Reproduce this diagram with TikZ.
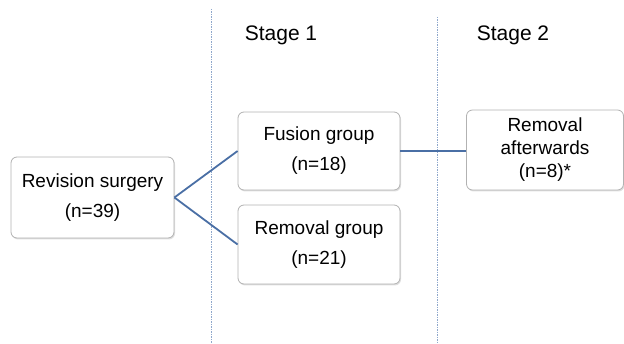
\documentclass[tikz,border=0pt]{standalone}
\usepackage{fontspec}
\setmainfont{Liberation Sans}
\usetikzlibrary{shadows}
\definecolor{linkblue}{HTML}{4A6FA5}
\definecolor{stagegray}{HTML}{8FA8CC}
\tikzset{
groupbox/.style={
	  draw=black!30, line width=0.8pt, rounded corners=6pt, fill=white,
	    drop shadow={opacity=0.25, shadow xshift=1pt, shadow yshift=-1.5pt},
    align=center, font=\fontsize{19}{23}\selectfont},
link/.style={draw=linkblue, line width=1.8pt},
stageline/.style={draw=stagegray, line width=0.9pt, densely dashed, dash pattern=on 1.5pt off 1pt}
}

\begin{document}
\begin{tikzpicture}[x=1pt, y=-1pt]
	\useasboundingbox (0,0) rectangle (624,344);
	% stage borders
	\coordinate (s1top) at (211,9);
	\coordinate (s1bot) at (211,344);
	\coordinate (s2top) at (437,17);
	\coordinate (s2bot) at (437,344);
	\draw[stageline] (s1top) -- (s1bot);
	\draw[stageline] (s2top) -- (s2bot);
	\node[font=\fontsize{21}{25}\selectfont] (stage1) at (281,35) {Stage 1};
	\node[font=\fontsize{21}{25}\selectfont] (stage2) at (513,35) {Stage 2};
	% groups
	\node[groupbox, minimum width=163pt, minimum height=81pt] (rev) at (92.5,197.5)
		{Revision surgery\\[7pt](n=39)};
	\node[groupbox, minimum width=162pt, minimum height=78pt] (fus) at (319,151)
		{Fusion group\\[7pt](n=18)};
	\node[groupbox, minimum width=162pt, minimum height=79pt] (rem) at (319,244.5)
		{Removal group\\[7pt](n=21)};
	\node[groupbox, minimum width=157pt, minimum height=80pt] (aft) at (545,150)
		{Removal\\afterwards\\(n=8)*};
	\draw[link] (rev.east) -- (fus.west);
	\draw[link] (rev.east) -- (rem.west);
	\draw[link] (fus.east) -- (aft.west |- fus.east);
\end{tikzpicture}
\end{document}
